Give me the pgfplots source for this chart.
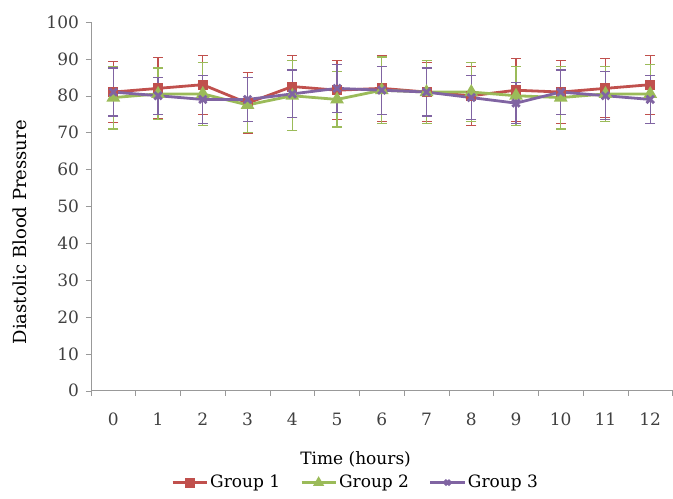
\documentclass[border=0pt]{standalone}
\usepackage{fontspec}
\setmainfont{DejaVu Serif}
\usepackage{pgfplots}
\pgfplotsset{compat=1.18}
\usetikzlibrary{calc}

\definecolor{gred}{HTML}{C0504D}
\definecolor{ggreen}{HTML}{9BBB59}
\definecolor{gpurple}{HTML}{8064A2}

\begin{document}
\begin{tikzpicture}
\begin{axis}[
    name=ax,
    scale only axis,
    width=291pt,
    height=184.5pt,
    xmin=-0.5, xmax=12.5,
    ymin=0, ymax=100,
    axis x line*=bottom,
    axis y line*=left,
    axis line style={-, draw=gray!80},
    xtick={0,...,12},
    minor xtick={-0.5,0.5,...,12.5},
    major x tick style={draw=none},
    minor tick length=2.5pt,
    major tick length=2.5pt,
    tick align=outside,
    tick style={gray!80},
    ytick={0,10,...,100},
    font=\fontsize{8.5}{10}\selectfont,
    /pgf/number format/assume math mode=true,
    xticklabel style={yshift=-5pt, text=black!75},
    yticklabel style={text=black!75},
    xlabel={Time (hours)},
    xlabel style={at={(axis description cs:0.455,0)}, anchor=north, yshift=-27pt},
    ylabel={Diastolic Blood Pressure},
    ylabel style={at={(axis description cs:-0.122,0.43)}, anchor=center,
        font=\fontsize{9}{11}\selectfont},
    legend columns=3,
    legend style={at={(0.455,-0.205)}, anchor=north, draw=none, fill=none,
        font=\fontsize{8.5}{10}\selectfont, column sep=0pt,
        nodes={inner xsep=1pt}},
    legend cell align=left,
    legend image post style={mark size=1.8pt},
    every axis plot/.append style={line width=1.4pt},
    error bars/error bar style={line width=0.6pt},
    error bars/error mark options={rotate=90, mark size=2.5pt, line width=0.6pt},
]
\addplot[color=gred, mark=square*, mark size=1.8pt,
    error bars/.cd, y dir=both, y explicit]
table[x=t, y=m, y error=e] {
t  m     e
0  81    8.3
1  82    8.3
2  83    8.0
3  78    8.2
4  82.5  8.5
5  81.5  8.0
6  82    9.0
7  81    8.0
8  80    8.0
9  81.5  8.5
10 81    8.5
11 82    8.0
12 83    8.0
};
\addlegendentry{Group 1\kern9pt}
\addplot[color=ggreen, mark=triangle*, mark size=2.6pt,
    error bars/.cd, y dir=both, y explicit]
table[x=t, y=m, y error=e] {
t  m     e
0  79.5  8.5
1  80.5  7.0
2  80.5  8.5
3  77.5  7.5
4  80    9.5
5  79    7.5
6  81.5  9.0
7  81    8.5
8  81    8.0
9  80    8.0
10 79.5  8.5
11 80.5  7.5
12 80.5  8.0
};
\addlegendentry{Group 2\kern9pt}
\addplot[color=gpurple, mark=x, mark size=2.6pt,
    error bars/.cd, y dir=both, y explicit]
table[x=t, y=m, y error=e] {
t  m     e
0  81    6.5
1  80    5.0
2  79    6.5
3  79    6.0
4  80.5  6.5
5  82    6.5
6  81.5  6.5
7  81    6.5
8  79.5  6.0
9  78    5.5
10 81    6.0
11 80    6.5
12 79    6.5
};
\addlegendentry{Group 3}
\end{axis}
\path[use as bounding box] ($(ax.south west)+(-45.5pt,-50pt)$) rectangle ($(ax.north east)+(0pt,11pt)$);
\end{tikzpicture}
\end{document}
